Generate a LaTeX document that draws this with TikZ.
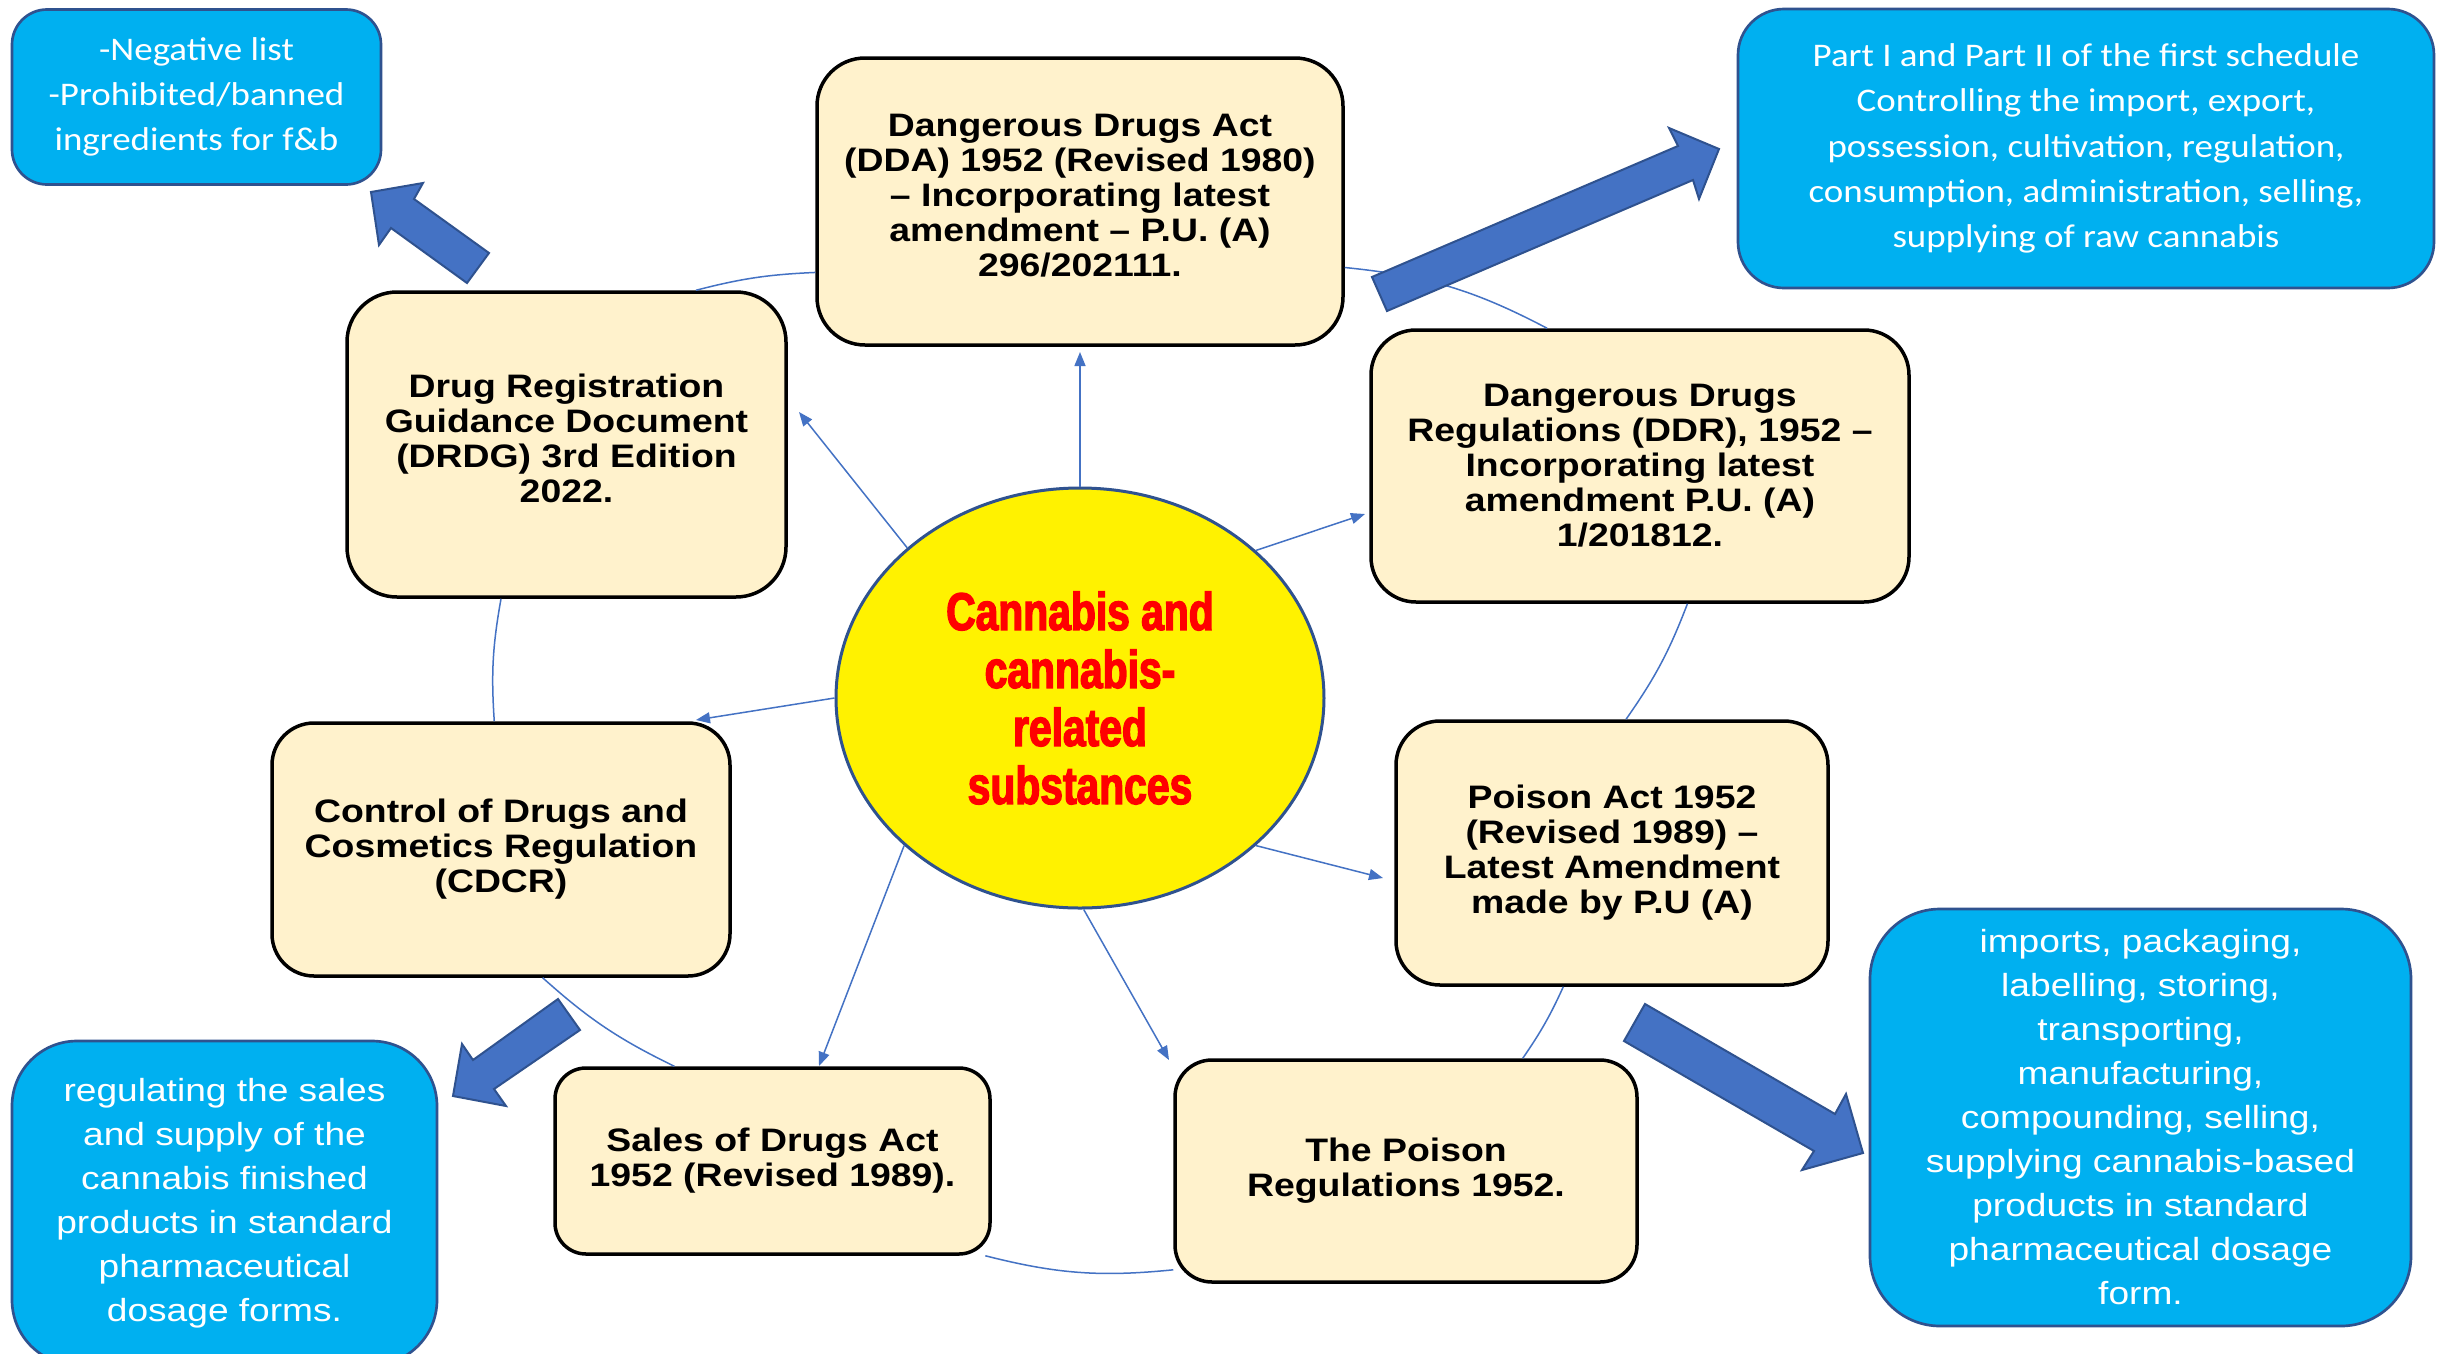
\documentclass[tikz,border=0pt]{standalone}
\usepackage{fontspec}
\usetikzlibrary{shapes.geometric,arrows.meta}
\newfontfamily\boxfont[FakeStretch=1.15]{Liberation Sans}
\newfontfamily\calfont[FakeStretch=1.12]{Carlito}
\newfontfamily\narfont[FakeStretch=1.16]{Liberation Sans}
\newfontfamily\impfont[FakeStretch=0.77,FakeBold=2.6]{Liberation Sans}
\definecolor{beigefill}{HTML}{FFF2CC}
\definecolor{cyanfill}{HTML}{00B0F0}
\definecolor{darkblue}{HTML}{2F528F}
\definecolor{linkblue}{HTML}{4472C4}
\definecolor{arrowblue}{HTML}{4472C4}
\tikzset{
  lawbox/.style={draw=black, line width=1.05pt, fill=beigefill, align=center, inner sep=0pt,
    font=\boxfont\bfseries\fontsize{9.75pt}{10.5pt}\selectfont},
  infobox/.style={draw=darkblue, line width=0.8pt, fill=cyanfill, text=white, align=center, inner sep=0pt},
  calitext/.style={font=\calfont\fontsize{9.9pt}{13.6pt}\selectfont},
  nartext/.style={font=\narfont\fontsize{9.6pt}{13.2pt}\selectfont},
  cyclearc/.style={draw=linkblue, line width=0.45pt},
  link/.style={draw=linkblue, line width=0.45pt, -{Triangle[length=4.2pt,width=3.3pt]}},
  bigarrow/.style={fill=arrowblue, draw=darkblue, line width=0.6pt, line join=miter}
}
\begin{document}
\begin{tikzpicture}[x=0.3pt,y=-0.3pt]
\useasboundingbox (0,0) rectangle (2437,1353);
\clip (0,0) rectangle (2437,1353);
\fill[white] (0,0) rectangle (2437,1353);

% law boxes
\node[lawbox, minimum width=157.8pt, minimum height=86.1pt, rounded corners=14.4pt] (dda) at (1080,201.5)
  {Dangerous Drugs Act\\(DDA) 1952 (Revised 1980)\\– Incorporating latest\\amendment – P.U. (A)\\296/202111.\\[-6.9pt]};
\node[lawbox, minimum width=131.7pt, minimum height=91.5pt, rounded corners=15pt] (drdg) at (566.5,444.5)
  {Drug Registration\\Guidance Document\\(DRDG) 3rd Edition\\2022.\\[-6.9pt]};
\node[lawbox, minimum width=161.4pt, minimum height=81.6pt, rounded corners=13.5pt] (ddr) at (1640,466)
  {Dangerous Drugs\\Regulations (DDR), 1952 –\\Incorporating latest\\amendment P.U. (A)\\1/201812.};
\node[lawbox, minimum width=137.4pt, minimum height=75.9pt, rounded corners=12.6pt] (cdcr) at (501,849.5)
  {Control of Drugs and\\Cosmetics Regulation\\(CDCR)};
\node[lawbox, minimum width=129.6pt, minimum height=79.2pt, rounded corners=13.2pt] (pa) at (1612,853)
  {Poison Act 1952\\(Revised 1989) –\\Latest Amendment\\made by P.U (A)};
\node[lawbox, minimum width=130.5pt, minimum height=55.8pt, rounded corners=9.3pt] (sda) at (772.5,1161)
  {Sales of Drugs Act\\1952 (Revised 1989).};
\node[lawbox, minimum width=138.6pt, minimum height=66.6pt, rounded corners=11.1pt] (pr) at (1406,1171)
  {The Poison\\Regulations 1952.};

% info boxes
\node[infobox, calitext, minimum width=110.7pt, minimum height=52.5pt, rounded corners=10.5pt] (neg) at (196.5,97)
  {-Negative list\\-Prohibited/banned\\ingredients for f\&b};
\node[infobox, calitext, minimum width=208.8pt, minimum height=83.7pt, rounded corners=13.8pt] (part) at (2086,148.5)
  {Part I and Part II of the first schedule\\Controlling the import, export,\\possession, cultivation, regulation,\\consumption, administration, selling,\\supplying of raw cannabis};
\node[infobox, nartext, minimum width=127.5pt, minimum height=97.2pt, rounded corners=19.5pt] (reg) at (224.5,1203)
  {regulating the sales\\and supply of the\\cannabis finished\\products in standard\\pharmaceutical\\dosage forms.};
\node[infobox, nartext, minimum width=162.3pt, minimum height=125.1pt, rounded corners=21pt] (imp) at (2140.5,1117.5)
  {imports, packaging,\\labelling, storing,\\transporting,\\manufacturing,\\compounding, selling,\\supplying cannabis-based\\products in standard\\pharmaceutical dosage\\form.};

% centre
\node[ellipse, draw=darkblue, line width=0.9pt, fill=yellow, inner sep=0pt,
  minimum width=146.4pt, minimum height=126pt, align=center, text=red,
  font=\impfont\bfseries\fontsize{15.9pt}{17.4pt}\selectfont] (c) at (1080,698)
  {Cannabis and\\cannabis-\\related\\substances};

% cycle arcs
\draw[cyclearc] (drdg.50.5) to[bend left=6] (dda.195.2);
\draw[cyclearc] (dda.346.2) to[bend left=11] (ddr.124.4);
\draw[cyclearc] (ddr.289.4) to[bend left=7] (pa.84.4);
\draw[cyclearc] (pa.250) to[bend left=5] (pr.44.7);
\draw[cyclearc] (pr.203) to[bend left=10] (sda.336.5);
\draw[cyclearc] (sda.136.4) to[bend left=8] (cdcr.288);
\draw[cyclearc] (cdcr.93.6) to[bend left=7] (drdg.247.1);

% link tips
\coordinate (tU) at (1080,352);
\coordinate (tUL) at (799,412);
\coordinate (tUR) at (1365,514);
\coordinate (tL) at (696,720);
\coordinate (tLR) at (1383,878);
\coordinate (tLL) at (819,1066);
\coordinate (tLo) at (1169,1060);
\draw[link] (c.90) -- (tU);
\draw[link] (c.139.1) -- (tUL);
\draw[link] (c.40.6) -- (tUR);
\draw[link] (c.180) -- (tL);
\draw[link] (c.-40.6) -- (tLR);
\draw[link] (c.220.9) -- (tLL);
\draw[link] (c.-89) -- (tLo);

% block arrows
\draw[bigarrow] (371,192) -- (423,183) -- (414,199) -- (489,253) -- (467,283) -- (391,228) -- (379,245) -- cycle;
\draw[bigarrow] (1719,149) -- (1669,128) -- (1678,146) -- (1372,277) -- (1387,311) -- (1693,180) -- (1699,199) -- cycle;
\draw[bigarrow] (453,1096) -- (462,1044) -- (473,1060) -- (558,999) -- (580,1030) -- (494,1089) -- (506,1106) -- cycle;
\draw[bigarrow] (1863,1153) -- (1846,1094) -- (1835,1114) -- (1645,1004) -- (1624,1041) -- (1814,1151) -- (1802,1170) -- cycle;
\end{tikzpicture}
\end{document}
